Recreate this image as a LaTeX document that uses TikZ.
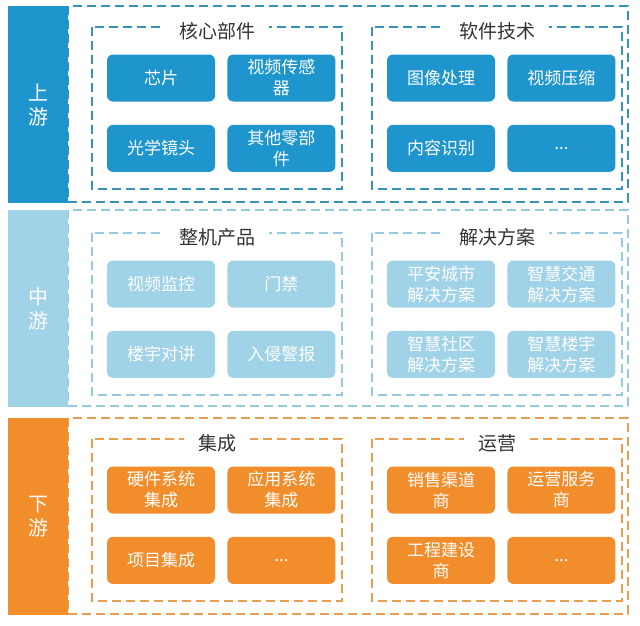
\documentclass[tikz,border=0pt]{standalone}
\usepackage{fontspec}
\newfontfamily\cjk{Noto Sans CJK SC}
\usetikzlibrary{positioning}
\definecolor{upblue}{RGB}{30,150,205}
\definecolor{updash}{RGB}{52,148,186}
\definecolor{midblue}{RGB}{160,210,232}
\definecolor{middash}{RGB}{150,202,222}
\definecolor{downorange}{RGB}{241,141,42}
\definecolor{downdash}{RGB}{232,158,78}
\definecolor{titlegray}{RGB}{51,51,51}
\tikzstyle{frame}=[line width=1.6pt, dash pattern=on 9pt off 5pt]
\tikzstyle{upframe}=[frame, draw=updash]
\tikzstyle{midframe}=[frame, draw=middash]
\tikzstyle{downframe}=[frame, draw=downdash]
\tikzstyle{bar}=[minimum width=60pt, minimum height=197pt, inner sep=0pt, text=white, align=center, font=\cjk\fontsize{20}{24}\selectfont]
\tikzstyle{upbar}=[bar, fill=upblue]
\tikzstyle{midbar}=[bar, fill=midblue]
\tikzstyle{downbar}=[bar, fill=downorange]
\tikzstyle{item}=[rounded corners=6pt, minimum width=108pt, minimum height=47pt, inner sep=0pt, text=white, align=center, font=\cjk\fontsize{17}{21}\selectfont]
\tikzstyle{upitem}=[item, fill=upblue]
\tikzstyle{miditem}=[item, fill=midblue]
\tikzstyle{downitem}=[item, fill=downorange]
\tikzstyle{title}=[fill=white, inner xsep=14pt, inner ysep=2pt, text=titlegray, font=\cjk\fontsize{19}{22}\selectfont]
\newcommand{\drawband}[4]{
  \draw[#1frame] (68,#2) rectangle (628,#2+196);
  \node[#1bar, anchor=north west] (#4) at (8,#2) {#3};
}
\newcommand{\drawgroup}[9]{
  \draw[#1frame] (#2,#3) rectangle ++(250,162);
  \node[title] (#4) at (#2+125,#3+4) {#5};
  \node[#1item] (#4-1) at (#2+69,#3+51) {#6};
  \node[#1item, right=12pt of #4-1] (#4-2) {#7};
  \node[#1item, below=23pt of #4-1] (#4-3) {#8};
  \node[#1item, below=23pt of #4-2] (#4-4) {#9};
}
\begin{document}
\begin{tikzpicture}[x=1pt, y=-1pt]
  \useasboundingbox (0,0) rectangle (640,625);
  \drawband{up}{6}{上\\游}{upstream}
  \drawgroup{up}{92}{27}{core}{核心部件}{芯片}{视频传感\\器}{光学镜头}{其他零部\\件}
  \drawgroup{up}{372}{27}{soft}{软件技术}{图像处理}{视频压缩}{内容识别}{...}
  \drawband{mid}{210}{中\\游}{midstream}
  \drawgroup{mid}{92}{233}{product}{整机产品}{视频监控}{门禁}{楼宇对讲}{入侵警报}
  \drawgroup{mid}{372}{233}{solution}{解决方案}{平安城市\\解决方案}{智慧交通\\解决方案}{智慧社区\\解决方案}{智慧楼宇\\解决方案}
  \drawband{down}{418}{下\\游}{downstream}
  \drawgroup{down}{92}{439}{integ}{集成}{硬件系统\\集成}{应用系统\\集成}{项目集成}{...}
  \drawgroup{down}{372}{439}{oper}{运营}{销售渠道\\商}{运营服务\\商}{工程建设\\商}{...}
\end{tikzpicture}
\end{document}
